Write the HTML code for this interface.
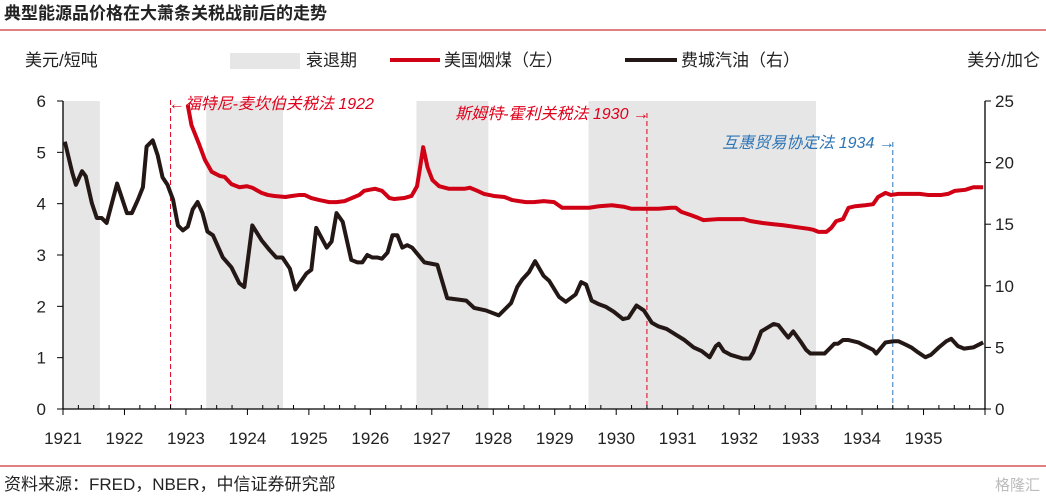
<!DOCTYPE html>
<html><head><meta charset="utf-8">
<style>
body{margin:0;background:#fff;}
svg{display:block;font-family:"Liberation Sans","Noto Sans CJK SC",sans-serif;}
</style></head>
<body>
<svg id="chart" width="1046" height="497" viewBox="0 0 1046 497" xmlns="http://www.w3.org/2000/svg">
<text x="4" y="19" font-size="17" font-weight="bold" fill="#222">典型能源品价格在大萧条关税战前后的走势</text>
<line x1="0" y1="30" x2="1046" y2="30" stroke="#c00000" stroke-width="1"/>
<text x="25" y="66" font-size="17" fill="#222">美元/短吨</text>
<text x="1040" y="66" font-size="17" fill="#222" text-anchor="end">美分/加仑</text>
<g>
<rect x="230" y="53" width="70" height="16" fill="#e6e6e6"/>
<text x="306" y="66" font-size="17" fill="#222">衰退期</text>
<line x1="390" y1="60" x2="440" y2="60" stroke="#d00015" stroke-width="4"/>
<text x="444" y="66" font-size="17" fill="#222">美国烟煤（左）</text>
<line x1="625" y1="60" x2="677" y2="60" stroke="#231815" stroke-width="4"/>
<text x="681" y="66" font-size="17" fill="#222">费城汽油（右）</text>
</g>
<g id="plot"></g>
<line x1="0" y1="466" x2="1046" y2="466" stroke="#c00000" stroke-width="1"/>
<text x="4" y="490" font-size="17" fill="#222">资料来源：FRED，NBER，中信证券研究部</text>
<text x="1040" y="490" font-size="15" fill="#bbb" text-anchor="end">格隆汇</text>
</svg>
<script>
const yearTicks=[1921,1922,1923,1924,1925,1926,1927,1928,1929,1930,1931,1932,1933,1934,1935];
const leftTicks=[0,1,2,3,4,5,6];
const rightTicks=[0,5,10,15,20,25];
const recStart=[1921.0,1923.33,1926.75,1929.55];
const recEnd=[1921.6,1924.58,1927.92,1933.25];
const coalYears=[1923.03,1923.09,1923.22,1923.31,1923.42,1923.55,1923.63,1923.74,1923.87,1923.99,1924.08,1924.23,1924.33,1924.44,1924.62,1924.72,1924.85,1924.93,1925.04,1925.17,1925.25,1925.33,1925.45,1925.58,1925.66,1925.74,1925.82,1925.90,1925.98,1926.08,1926.19,1926.31,1926.39,1926.55,1926.67,1926.76,1926.81,1926.86,1926.93,1927.01,1927.12,1927.28,1927.44,1927.53,1927.62,1927.74,1927.85,1928.01,1928.18,1928.31,1928.42,1928.53,1928.66,1928.82,1928.99,1929.12,1929.28,1929.56,1929.72,1929.93,1930.12,1930.25,1930.48,1930.69,1930.89,1930.97,1931.06,1931.21,1931.34,1931.42,1931.67,1932.07,1932.19,1932.40,1932.56,1932.72,1933.01,1933.13,1933.21,1933.29,1933.42,1933.50,1933.58,1933.69,1933.78,1933.89,1934.05,1934.18,1934.26,1934.38,1934.47,1934.59,1934.75,1934.94,1935.07,1935.29,1935.40,1935.51,1935.68,1935.81,1935.97];
const coalValues=[5.92,5.53,5.14,4.85,4.62,4.54,4.52,4.38,4.32,4.34,4.31,4.21,4.17,4.15,4.13,4.15,4.17,4.17,4.11,4.07,4.05,4.03,4.03,4.05,4.09,4.13,4.17,4.25,4.27,4.29,4.25,4.11,4.09,4.11,4.15,4.34,4.71,5.10,4.71,4.46,4.34,4.29,4.29,4.29,4.31,4.25,4.19,4.15,4.13,4.07,4.05,4.03,4.03,4.05,4.03,3.92,3.92,3.92,3.95,3.97,3.94,3.90,3.90,3.90,3.92,3.92,3.84,3.78,3.72,3.68,3.70,3.70,3.66,3.62,3.60,3.58,3.53,3.51,3.49,3.45,3.45,3.53,3.66,3.70,3.92,3.95,3.97,3.99,4.13,4.21,4.17,4.19,4.19,4.19,4.17,4.17,4.19,4.25,4.27,4.32,4.32];
const oilYears=[1921.03,1921.15,1921.21,1921.31,1921.37,1921.47,1921.55,1921.63,1921.71,1921.88,1922.04,1922.12,1922.22,1922.30,1922.36,1922.46,1922.54,1922.62,1922.70,1922.79,1922.87,1922.95,1923.03,1923.11,1923.19,1923.27,1923.35,1923.44,1923.60,1923.74,1923.87,1923.95,1924.08,1924.23,1924.36,1924.47,1924.57,1924.69,1924.78,1924.96,1925.04,1925.12,1925.29,1925.37,1925.45,1925.55,1925.69,1925.79,1925.87,1925.95,1926.03,1926.11,1926.19,1926.28,1926.36,1926.44,1926.52,1926.60,1926.68,1926.88,1927.09,1927.25,1927.56,1927.69,1927.88,1928.09,1928.29,1928.39,1928.47,1928.58,1928.68,1928.82,1928.91,1929.07,1929.18,1929.34,1929.43,1929.51,1929.60,1929.72,1929.83,1929.96,1930.11,1930.20,1930.33,1930.45,1930.58,1930.69,1930.82,1930.98,1931.11,1931.26,1931.39,1931.52,1931.62,1931.67,1931.75,1931.86,1932.06,1932.17,1932.23,1932.36,1932.46,1932.56,1932.64,1932.75,1932.80,1932.88,1933.01,1933.09,1933.16,1933.22,1933.39,1933.45,1933.55,1933.61,1933.69,1933.78,1933.94,1934.02,1934.18,1934.23,1934.38,1934.51,1934.59,1934.72,1934.80,1934.91,1935.03,1935.12,1935.25,1935.37,1935.45,1935.56,1935.66,1935.81,1935.97];
const oilValues=[21.7,19.2,18.2,19.3,18.9,16.7,15.5,15.5,15.1,18.3,15.9,15.9,17.0,18.0,21.3,21.8,20.6,18.8,18.2,17.0,14.9,14.5,14.8,16.2,16.8,15.9,14.4,14.1,12.3,11.5,10.2,9.9,14.9,13.7,12.9,12.3,12.3,11.4,9.7,11.0,11.3,14.7,13.1,13.6,15.9,15.2,12.1,11.9,11.9,12.5,12.3,12.3,12.2,12.7,14.1,14.1,13.1,13.3,13.1,11.9,11.7,9.0,8.8,8.2,8.0,7.6,8.6,9.9,10.5,11.1,12.0,10.8,10.4,9.1,8.7,9.3,10.3,10.1,8.8,8.5,8.3,7.9,7.3,7.4,8.4,8.0,7.0,6.7,6.5,6.0,5.6,5.0,4.7,4.2,5.1,5.3,4.7,4.4,4.1,4.1,4.6,6.3,6.6,6.9,6.8,6.1,5.8,6.3,5.4,4.8,4.5,4.5,4.5,4.8,5.3,5.3,5.6,5.6,5.4,5.2,4.8,4.5,5.4,5.5,5.5,5.2,5.0,4.6,4.2,4.4,5.0,5.5,5.7,5.1,4.9,5.0,5.4];
const eventYears=[1922.75,1930.5,1934.5];
const eventLabels=["←福特尼-麦坎伯关税法 1922","斯姆特-霍利关税法 1930 →","互惠贸易协定法 1934 →"];

const X0=63,X1=985,Y0=409,Y1=101;
const xs=y=>X0+(y-1921)/(1936-1921)*(X1-X0);
const yl=v=>Y0-v/6*(Y0-Y1);
const yr=v=>Y0-v/25*(Y0-Y1);
const NS="http://www.w3.org/2000/svg";
const g=document.getElementById('plot');
function mk(t,a){const e=document.createElementNS(NS,t);for(const k in a)e.setAttribute(k,a[k]);g.appendChild(e);return e;}

recStart.forEach((s,i)=>{
  const r=mk('rect',{x:xs(s),y:Y1,width:xs(recEnd[i])-xs(s),height:Y0-Y1,fill:'#e6e6e6'});
  
  
});
const evColors=['#e0001b','#e0001b','#2e75b6'];
const evTop=[100,113,142];
const evTextY=[109,119,148];
eventYears.forEach((y,i)=>{
  const x=xs(y);
  const l=mk('line',{x1:x,y1:evTop[i],x2:x,y2:Y0,stroke:evColors[i],'stroke-width':1,'stroke-dasharray':'5,3'});
  
  
  const t=mk('text',{x:i==0?x-2:x+2,y:evTextY[i],'font-size':16,'font-style':'italic',fill:evColors[i],'text-anchor':i==0?'start':'end'});
  t.textContent=eventLabels[i];
  
  
});
const ax=mk('path',{d:`M${X0},${Y1}V${Y0}H${X1}V${Y1}`,fill:'none',stroke:'#000','stroke-width':1.3});


leftTicks.forEach(v=>{
  const y=yl(v);
  mk('line',{x1:X0-6,y1:y,x2:X0,y2:y,stroke:'#000'});
  const t=mk('text',{x:X0-17,y:y+6,'font-size':17,'text-anchor':'end',fill:'#222'});t.textContent=v;
  
  
});
rightTicks.forEach(v=>{
  const y=yr(v);
  mk('line',{x1:X1,y1:y,x2:X1+6,y2:y,stroke:'#000'});
  const t=mk('text',{x:X1+10,y:y+6,'font-size':17,fill:'#222'});t.textContent=v;
  
  
});
for(let q=0;q<=60;q++){
  const x=xs(1921+q/4);const maj=q%4==0;
  mk('line',{x1:x,y1:Y0-(maj?0:4),x2:x,y2:Y0+(maj?6:0),stroke:'#000'});
}
yearTicks.forEach(y=>{
  const t=mk('text',{x:xs(y),y:444,'font-size':17,'text-anchor':'middle',fill:'#222'});t.textContent=y;
  
  
});
const cp=mk('polyline',{points:coalYears.map((y,i)=>xs(y)+','+yl(coalValues[i])).join(' '),fill:'none',stroke:'#d00015','stroke-width':4,'stroke-linejoin':'round'});


const op=mk('polyline',{points:oilYears.map((y,i)=>xs(y)+','+yr(oilValues[i])).join(' '),fill:'none',stroke:'#231815','stroke-width':4,'stroke-linejoin':'round'});


</script>
</body></html>
